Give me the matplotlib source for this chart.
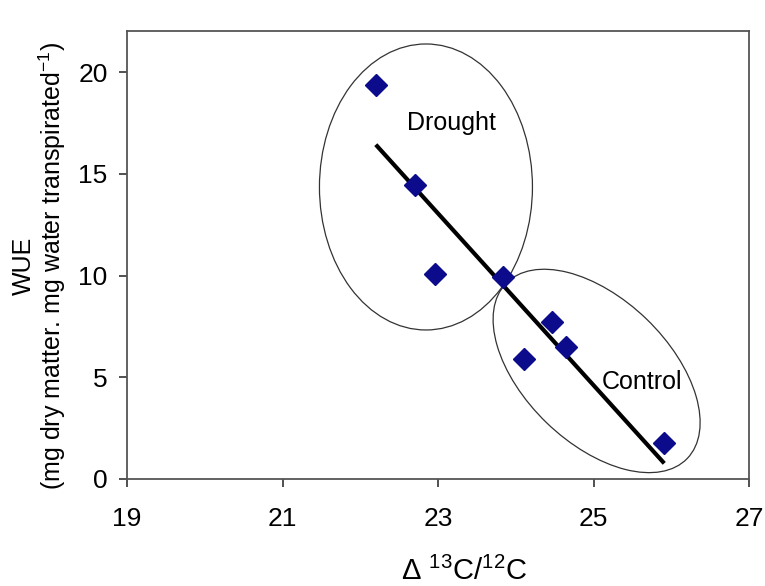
import numpy as np
import matplotlib
matplotlib.use("Agg")
import matplotlib.pyplot as plt
from matplotlib.patches import Ellipse
from matplotlib.transforms import ScaledTranslation

plt.rcParams['font.family'] = ['Liberation Sans', 'DejaVu Sans']
plt.rcParams['mathtext.fontset'] = 'custom'
plt.rcParams['mathtext.rm'] = 'Liberation Sans'
plt.rcParams['mathtext.it'] = 'Liberation Sans:italic'
plt.rcParams['mathtext.bf'] = 'Liberation Sans:bold'

# Data
delta13c = [22.2, 22.71, 22.96, 23.83, 24.10, 24.46, 24.64, 25.91]
wue = [19.36, 14.45, 10.07, 9.93, 5.88, 7.71, 6.49, 1.78]
x_ticks = [19, 21, 23, 25, 27]
y_ticks = [0, 5, 10, 15, 20]
group_labels = ["Drought", "Control"]
group_label_pos = [(23.17, 17.49), (25.63, 4.78)]
# ellipse centres (data units) and size (inches) / angle
ellipse_centres = [(22.845, 14.35), (25.04, 5.31)]
ellipse_sizes = [(2.13, 2.86, 0), (2.52, 1.44, -44)]

fig = plt.figure(figsize=(7.65, 5.86), dpi=100)
ax = fig.add_axes([127/765, 107/586, 622/765, 447.7/586])

ax.set_xlim(19, 27)
ax.set_ylim(0, 22)

# regression line
coef = np.polyfit(delta13c, wue, 1)
xl = np.array([min(delta13c), max(delta13c)])
ax.plot(xl, np.polyval(coef, xl), color='black', lw=3.0, solid_capstyle='butt', zorder=3)

ax.plot(delta13c, wue, linestyle='none', marker='D', ms=11.5, color='#0b0b8c', zorder=4)

for (cx, cy), (w, h, ang) in zip(ellipse_centres, ellipse_sizes):
    tr = fig.dpi_scale_trans + ScaledTranslation(cx, cy, ax.transData)
    e = Ellipse((0, 0), w, h, angle=ang, transform=tr, fill=False,
                edgecolor='#333333', lw=0.9, zorder=2)
    ax.add_patch(e)

for lab, (tx, ty) in zip(group_labels, group_label_pos):
    ax.text(tx, ty, lab, ha='center', va='center', fontsize=18, color='black', zorder=5)

ax.set_xticks(x_ticks)
ax.set_yticks(y_ticks)
ax.tick_params(axis='both', direction='out', length=6, width=1.2, colors='#333333',
               labelsize=19, labelcolor='black')
ax.tick_params(axis='x', pad=14)
ax.tick_params(axis='y', pad=8)

for s in ax.spines.values():
    s.set_color('#555555')
    s.set_linewidth(1.3)

ax.set_xlabel("Δ $^{13}$C/$^{12}$C", fontsize=21)
ax.xaxis.set_label_coords(0.542, -0.206)
ax.xaxis.label.set_va('center')

ax.set_ylabel("WUE\n(mg dry matter. mg water transpirated$^{-1}$)", fontsize=18,
              linespacing=1.0)
ax.yaxis.set_label_coords(-0.14, 0.476)
ax.yaxis.label.set_va('center')

fig.savefig("out.png", dpi=100)
